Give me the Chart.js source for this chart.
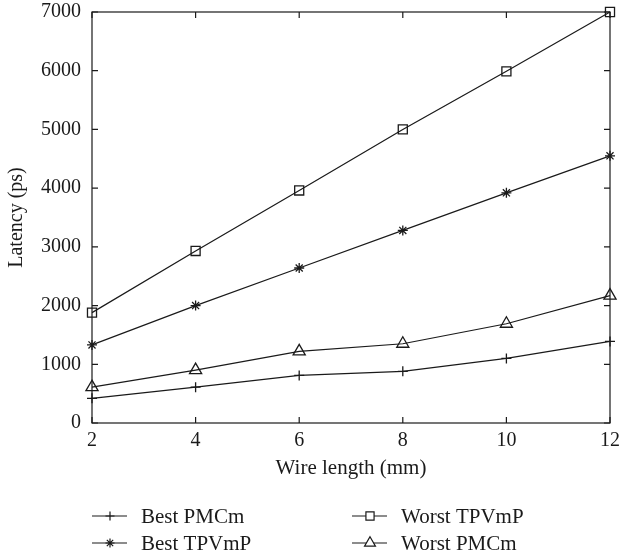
<!DOCTYPE html>
<html>
<head>
<meta charset="utf-8">
<script src="https://cdn.jsdelivr.net/npm/chart.js@4.4.1/dist/chart.umd.min.js"></script>
<style>
  html, body { margin: 0; padding: 0; background: #fff; }
  #wrap { width: 619px; height: 556px; position: relative; }
</style>
</head>
<body>
<div id="wrap"><canvas id="grafico"></canvas></div>
<script>
// comprimento do fio (mm)
const comprimentos = [2, 4, 6, 8, 10, 12];

// latência (ps) de cada configuração
const bestPMCm   = [420, 610, 810, 880, 1100, 1390];
const bestTPVmP  = [1330, 2000, 2640, 3280, 3920, 4550];
const worstTPVmP = [1880, 2930, 3960, 5000, 5990, 7000];
const worstPMCm  = [610, 900, 1220, 1350, 1690, 2170];

const nomes = ['Best PMCm', 'Best TPVmP', 'Worst TPVmP', 'Worst PMCm'];
const ticksX = [2, 4, 6, 8, 10, 12];
const ticksY = [0, 1000, 2000, 3000, 4000, 5000, 6000, 7000];

const COR = '#1a1a1a';
const FONTE = '"Liberation Serif", "DejaVu Serif", serif';

function serie(label, valores, estilo, raio) {
  return {
    label: label,
    data: comprimentos.map((x, i) => ({ x: x, y: valores[i] })),
    borderColor: COR,
    borderWidth: 1.2,
    pointStyle: estilo,
    pointRadius: raio,
    pointBorderColor: COR,
    pointBorderWidth: 1.3,
    pointBackgroundColor: 'rgba(0,0,0,0)',
    fill: false,
    clip: false,
    tension: 0
  };
}

// caixa em volta da área do gráfico + marcas de escala para dentro (todas as bordas)
const caixa = {
  id: 'caixa',
  beforeDatasetsDraw(chart) {
    const { ctx, chartArea: a, scales } = chart;
    ctx.save();
    ctx.strokeStyle = COR;
    ctx.lineWidth = 1.2;
    ctx.strokeRect(a.left, a.top, a.right - a.left, a.bottom - a.top);
    ctx.beginPath();
    ticksX.forEach(v => {
      const px = scales.x.getPixelForValue(v);
      ctx.moveTo(px, a.bottom); ctx.lineTo(px, a.bottom - 6);
      ctx.moveTo(px, a.top); ctx.lineTo(px, a.top + 6);
    });
    ticksY.forEach(v => {
      const py = scales.y.getPixelForValue(v);
      ctx.moveTo(a.left, py); ctx.lineTo(a.left + 6, py);
      ctx.moveTo(a.right, py); ctx.lineTo(a.right - 6, py);
    });
    ctx.stroke();
    ctx.restore();
  }
};

// legenda em duas colunas abaixo do eixo x
const legenda = {
  id: 'legenda',
  afterDraw(chart) {
    const { ctx } = chart;
    const pos = [[92, 516], [92, 543], [352, 516], [352, 543]];
    ctx.save();
    ctx.font = '21px ' + FONTE;
    ctx.textBaseline = 'middle';
    chart.data.datasets.forEach((ds, i) => {
      const [x0, y0] = pos[i];
      ctx.strokeStyle = COR;
      ctx.lineWidth = 1.2;
      ctx.beginPath();
      ctx.moveTo(x0, y0); ctx.lineTo(x0 + 35, y0);
      ctx.stroke();
      ctx.fillStyle = '#fff';
      Chart.helpers.drawPoint(ctx, {
        pointStyle: ds.pointStyle,
        radius: ds.pointRadius * 0.9,
        rotation: 0,
        borderWidth: 1.3
      }, x0 + 18, y0);
      ctx.fillStyle = COR;
      ctx.fillText(ds.label, x0 + 49, y0 + 1);
    });
    ctx.restore();
  }
};

new Chart(document.getElementById('grafico'), {
  type: 'line',
  data: {
    datasets: [
      serie(nomes[0], bestPMCm, 'cross', 5),
      serie(nomes[1], bestTPVmP, 'star', 5),
      serie(nomes[2], worstTPVmP, 'rect', 6.4),
      serie(nomes[3], worstPMCm, 'triangle', 7)
    ]
  },
  options: {
    responsive: true,
    maintainAspectRatio: false,
    animation: false,
    layout: { padding: { top: 12, right: 9, bottom: 71, left: 0 } },
    plugins: {
      legend: { display: false },
      tooltip: { enabled: false }
    },
    scales: {
      x: {
        type: 'linear',
        min: 2,
        max: 12,
        afterBuildTicks: s => { s.ticks = ticksX.map(v => ({ value: v })); },
        afterFit: s => { s.height = 62; s.paddingLeft = 0; s.paddingRight = 0; },
        grid: { display: false, drawTicks: false },
        border: { display: false },
        ticks: { color: COR, padding: 6, font: { family: FONTE, size: 20 }, callback: v => String(v) },
        title: { display: true, text: 'Wire length (mm)', color: COR, padding: { top: 10 }, font: { family: FONTE, size: 21 } }
      },
      y: {
        min: 0,
        max: 7000,
        afterBuildTicks: s => { s.ticks = ticksY.map(v => ({ value: v })); },
        afterFit: s => { s.width = 92; s.paddingTop = 0; s.paddingBottom = 0; },
        grid: { display: false, drawTicks: false },
        border: { display: false },
        ticks: { color: COR, padding: 11, font: { family: FONTE, size: 20 }, callback: v => String(v) },
        title: { display: true, text: 'Latency (ps)', color: COR, padding: { top: 5, bottom: 0 }, font: { family: FONTE, size: 20 } }
      }
    }
  },
  plugins: [caixa, legenda]
});
</script>
</body>
</html>
